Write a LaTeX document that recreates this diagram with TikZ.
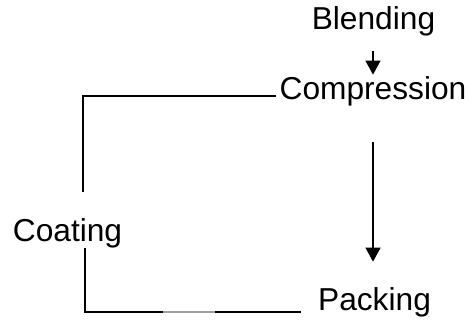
\documentclass[tikz,border=0pt]{standalone}
\usepackage{fontspec}
\setmainfont{Liberation Sans}
\usetikzlibrary{arrows.meta}

\begin{document}
\begin{tikzpicture}[x=1pt, y=-1pt, line width=1.2pt, stage/.style = {anchor = base, inner sep = 3.3pt, font = \fontsize{31.7}{36}\selectfont}, flow/.style = {-{Triangle[width=15pt, length=14pt]}}]
	\useasboundingbox (0,0) rectangle (470,323);
	\node[stage] (1) at (373.5,29.5) {Blending};
	\node[stage] (2) at (373,100) {Compression};
	\node[stage] (3) at (67.5,241) {Coating};
	\node[stage] (4) at (374.5,310) {Packing};
	\draw[flow, shorten < = 11pt, shorten > = -1.5pt] (1.south -| 2.south) -- (2.north);
	\draw[flow, shorten < = 32pt, shorten > = 21.5pt] (2.south) -- (2.south |- 4.north);
	\draw[shorten < = 22.5pt] ([xshift=15.5pt]3.north) |- ([yshift=4pt]2.base west);
	\draw[shorten < = -3pt, shorten > = 13.5pt] ([xshift=17.5pt]3.south) |- ([yshift=-2pt]4.base west);
	\draw[gray!75, line width=2pt] (163,312) -- (215,312);
\end{tikzpicture}
\end{document}
